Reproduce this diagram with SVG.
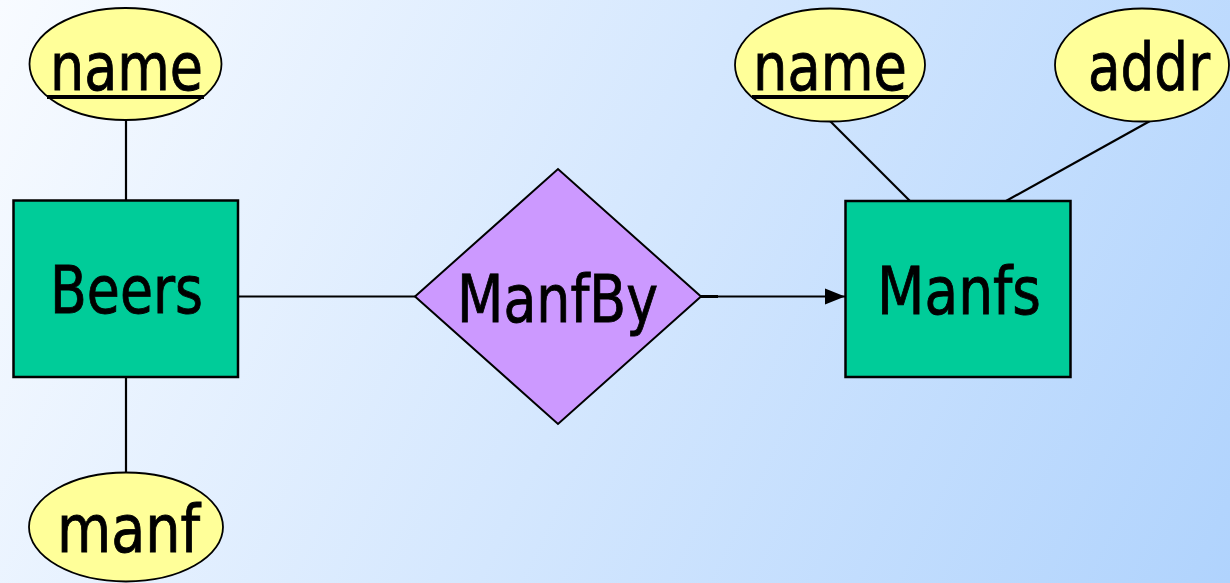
<svg xmlns="http://www.w3.org/2000/svg" width="1230" height="583" viewBox="0 0 1230 583">
<defs>
<linearGradient id="bg" gradientUnits="userSpaceOnUse" x1="0" y1="0" x2="1230" y2="583">
<stop offset="0" stop-color="#f8fbff"/>
<stop offset="1" stop-color="#b0d3fd"/>
</linearGradient>
<marker id="arrow" markerUnits="userSpaceOnUse" markerWidth="20" markerHeight="20" viewBox="0 0 20 20" refX="20" refY="10" orient="auto">
<path d="M0,2 L20,10 L0,18 Z" fill="#000"/>
</marker>
<style>
.ent{fill:#00cc99;stroke:#000;stroke-width:2.5}
.rel{fill:#cc99ff;stroke:#000;stroke-width:2}
.att{fill:#ffff99;stroke:#000;stroke-width:1.8}
.lbl{font-family:"DejaVu Sans","Liberation Sans",sans-serif;font-size:65px;fill:#000;stroke:#000;stroke-width:0.9}
.ul{stroke:#000;stroke-width:4}
.con line{stroke:#000;stroke-width:2.2}
</style>
</defs>
<rect x="0" y="0" width="1230" height="583" fill="url(#bg)"/>
<g id="connectors" class="con">
<line x1="126" y1="120" x2="126" y2="201"/>
<line x1="126" y1="377" x2="126" y2="473"/>
<line x1="238" y1="296.5" x2="415" y2="296.5"/>
<line x1="701" y1="296.5" x2="845" y2="296.5" marker-end="url(#arrow)"/>
<line x1="701" y1="296.5" x2="718" y2="296.5" style="stroke-width:3"/>
<line x1="830" y1="121" x2="910" y2="201"/>
<line x1="1150" y1="121" x2="1006" y2="201"/>
</g>
<g id="beers">
<rect class="ent" x="13.5" y="200.5" width="224.5" height="176.5"/>
<text class="lbl" x="50" y="313" textLength="153" lengthAdjust="spacingAndGlyphs">Beers</text>
</g>
<g id="manfby">
<polygon class="rel" points="415,296.5 558,169 701,296.5 558,424"/>
<text class="lbl" x="457" y="322" textLength="201" lengthAdjust="spacingAndGlyphs">ManfBy</text>
</g>
<g id="manfs">
<rect class="ent" x="845.5" y="201" width="225" height="176"/>
<text class="lbl" x="877" y="314" textLength="164" lengthAdjust="spacingAndGlyphs">Manfs</text>
</g>
<g id="beers-name">
<ellipse class="att" cx="125.5" cy="64" rx="96" ry="56"/>
<text class="lbl" x="50" y="90" textLength="153" lengthAdjust="spacingAndGlyphs">name</text>
<line class="ul" x1="47" y1="97" x2="204" y2="97"/>
</g>
<g id="beers-manf">
<ellipse class="att" cx="126" cy="527" rx="97" ry="54.5"/>
<text class="lbl" x="57" y="552" textLength="143" lengthAdjust="spacingAndGlyphs">manf</text>
</g>
<g id="manfs-name">
<ellipse class="att" cx="830" cy="65" rx="95" ry="56.5"/>
<text class="lbl" x="753" y="90" textLength="154" lengthAdjust="spacingAndGlyphs">name</text>
<line class="ul" x1="752" y1="97" x2="908" y2="97"/>
</g>
<g id="manfs-addr">
<ellipse class="att" cx="1142" cy="65" rx="87" ry="56.5"/>
<text class="lbl" x="1088" y="90" textLength="122" lengthAdjust="spacingAndGlyphs">addr</text>
</g>
</svg>
